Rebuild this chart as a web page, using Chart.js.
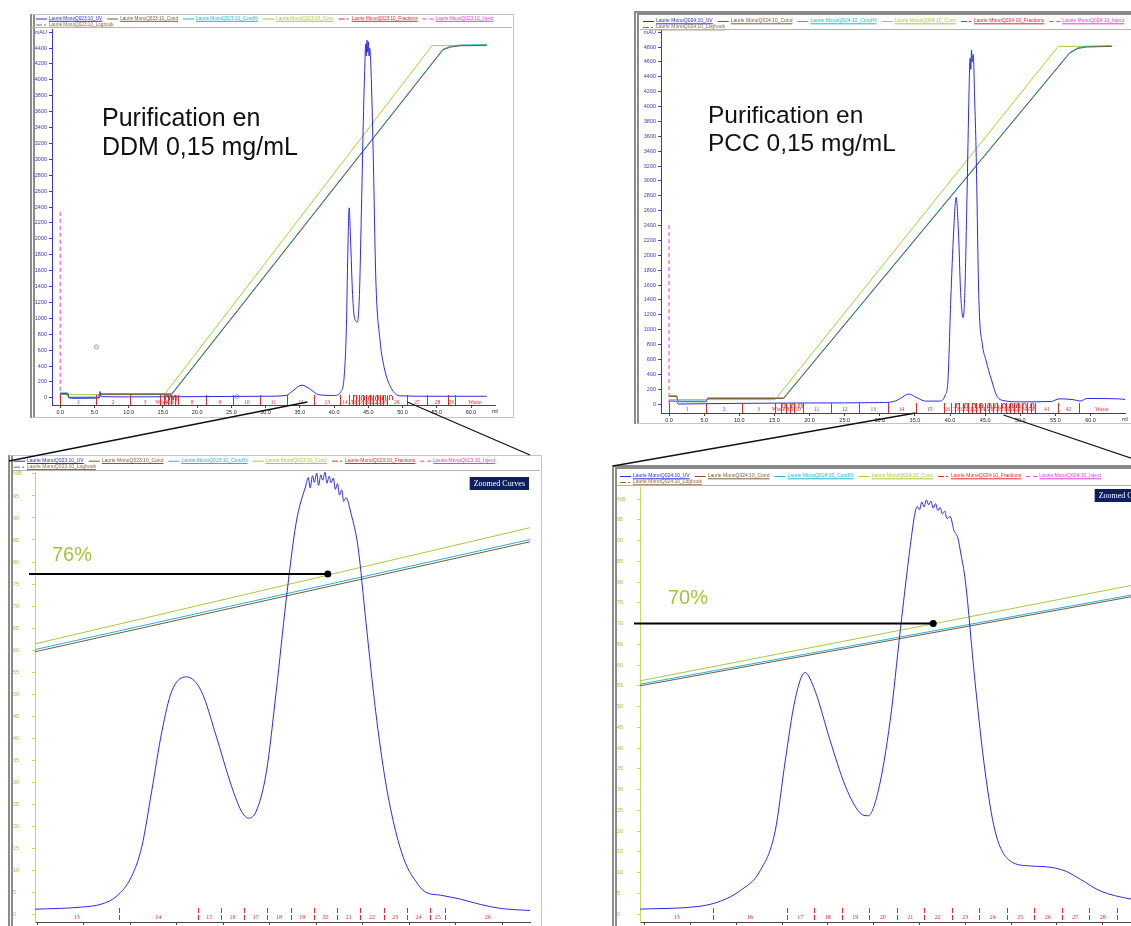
<!DOCTYPE html>
<html>
<head>
<meta charset="utf-8">
<script src="https://cdn.jsdelivr.net/npm/chart.js@4.4.0/dist/chart.umd.min.js"></script>
<style>
  html, body { margin: 0; padding: 0; background: #fff; width: 1131px; height: 926px; overflow: hidden; }
  .frame { position: absolute; box-sizing: border-box; border: 1px solid #c4c4c4; border-left: 5px double #8c8c8c; background: #fff; }
  .bar { border-top: 4px solid #8a8a8a; }
  canvas.chart { position: absolute; }
  .title { position: absolute; font-family: 'Liberation Sans', Arial, sans-serif; color: #111; white-space: pre; }
  #overlay { position: absolute; left: 0; top: 0; pointer-events: none; }
</style>
</head>
<body>
<div class="frame" style="left:30px; top:14px; width:484px; height:404px;"></div>
<div class="frame bar" style="left:634px; top:11px; width:540px; height:413px;"></div>
<div class="frame" style="left:8px; top:455px; width:534px; height:490px;"></div>
<div class="frame bar" style="left:612px; top:465px; width:560px; height:480px;"></div>

<canvas class="chart" id="tl" width="481" height="401" style="left:31px; top:15px;"></canvas>
<canvas class="chart" id="tr" width="500" height="408" style="left:640px; top:15px;"></canvas>
<canvas class="chart" id="bl" width="527" height="475" style="left:13px; top:456px;"></canvas>
<canvas class="chart" id="br" width="550" height="464" style="left:617px; top:468px;"></canvas>
<canvas id="overlay" width="1131" height="926"></canvas>

<div class="title" style="left:102px; top:103px; font-size:25px; line-height:29px;">Purification en
DDM 0,15 mg/mL</div>
<div class="title" style="left:708px; top:101px; font-size:24.5px; line-height:28px;">Purification en
PCC 0,15 mg/mL</div>

<script>
// ---------- top left run (DDM), x in ml, UV in mAU, others in % ----------
const uvTL = [[0,50],[1.0,50],[1.3,5],[2,-5],[5.6,0],[5.8,80],[6.0,15],[10,12],[20,15],[30,20],[33,30],[34,90],[35.3,160],[36.5,110],[37.7,40],[40,30],[41,80],[41.5,300],[41.8,900],[42.0,1800],[42.2,2390],[42.4,2000],[42.7,1300],[43.0,1000],[43.4,955],[43.7,1300],[44.0,2400],[44.3,3600],[44.5,4200],[44.6,4450],[44.7,4300],[44.8,4500],[44.9,4350],[45.0,4480],[45.1,4300],[45.2,4400],[45.4,4100],[45.7,3120],[46.1,1480],[46.7,730],[47.4,350],[48.5,100],[49.6,25],[55,20],[62.3,20]];
const condTL = [[0,0.3],[1.1,0.3],[1.25,-0.9],[5.7,-0.9],[5.9,0.1],[16.3,0.1],[55.9,98.8],[57.0,99.6],[58.5,100],[62.3,100.1]];
const condPctTL = [[0,0.5],[1.1,0.5],[1.25,-0.7],[5.7,-0.7],[5.9,0.3],[16.3,0.3],[55.9,99.0],[57.0,99.8],[58.5,100.2],[62.3,100.3]];
const concTL = [[0,0],[15.2,0],[54.3,100],[62.3,100]];
const injectTL = [[0,0],[0,2350]];
const logbookTL = [[5.3,640],[25.8,15]];
const fracEdgesTL = [0,5.2,10.2,14.6,15.2,15.7,16.2,16.7,17.2,21.3,25.3,29.2,33.1,37.1,40.9,42.2,42.7,43.2,43.7,44.2,44.7,45.2,45.7,46.2,46.7,47.2,47.7,50.6,53.6,56.6,57.6];
const fracLabelsTL = ['','1','2','3','Waste','4','5','6','7','8','9','10','11','12','13','14','15','16','17','18','19','20','21','22','23','24','25','26','27','28','29','Waste'];
const tubeMarksTL = [15.6,16.2,16.8,43.1,44.2,45.3,46.3,47.3,48.3];

// ---------- top right run (PCC) ----------
const uvTR = [[0,40],[1.0,40],[1.3,0],[5,5],[10,10],[20,15],[30,20],[32,35],[33,80],[34.1,135],[35.2,90],[36.5,40],[38.5,40],[39.3,120],[39.7,324],[40.1,1405],[40.5,2300],[40.86,2780],[41.2,2300],[41.5,1500],[41.86,1162],[42.1,1500],[42.4,2757],[42.7,4200],[42.85,4650],[42.95,4500],[43.05,4760],[43.15,4600],[43.3,4700],[43.5,4100],[43.7,3430],[44.1,1405],[44.6,800],[45.1,595],[45.5,450],[45.9,324],[46.6,120],[47.3,54],[50,30],[54.4,35],[55.5,70],[57.5,60],[58.5,40],[59.5,75],[64,70],[65,60]];
const condTR = [[0,0.9],[1.1,0.9],[1.25,-0.6],[5.3,-0.6],[5.5,0.3],[16.3,0.3],[57.0,98],[58.2,99.4],[59.4,99.8],[63,100]];
const condPctTR = [[0,1.1],[1.1,1.1],[1.25,-0.4],[5.3,-0.4],[5.5,0.5],[16.3,0.5],[57.0,98.2],[58.2,99.6],[59.4,100],[63,100.2]];
const concTR = [[0,0],[15.1,0],[55.4,100],[63,100]];
const injectTR = [[0,0],[0,2450]];
const fracEdgesTR = [0,5.3,10.4,15.1,16.0,16.6,17.2,17.8,19.0,23.0,27.0,31.1,35.1,39.1,40.1,40.7,41.3,41.9,42.5,43.1,43.7,44.3,44.9,45.5,46.1,46.7,47.3,47.9,48.5,49.1,49.7,50.3,50.9,51.5,52.1,55.4,58.3];
const fracLabelsTR = ['','1','2','3','Waste','7','8','9','10','11','12','13','14','15','16','17','18','19','20','21','22','23','24','25','26','27','28','29','30','31','32','33','34','35','36','41','42','Waste'];
const tubeMarksTR = [16.3,17.7,18.7,41.1,42.3,43.4,44.4,45.6,46.6,47.7,48.7,49.7,50.6,51.7];

// ---------- bottom left: zoom on DDM run ----------
const uvBL = [[38.95,1.1],[39.96,1.6],[40.39,2.3],[40.71,4.1],[41.03,8.6],[41.25,15.4],[41.46,27.9],[41.68,41.5],[41.89,50.6],[42.21,53.9],[42.53,50.6],[42.85,40.4],[43.18,29],[43.39,23.4],[43.54,21.8],[43.71,23.4],[43.93,32.4],[44.14,50.6],[44.35,71],[44.57,89],[44.78,97.5],[44.83,99.2],[44.87,96.8],[44.92,99.6],[44.96,98.1],[45.01,100.2],[45.05,97.4],[45.10,99.8],[45.14,98.6],[45.19,100.4],[45.23,97.9],[45.28,99.5],[45.32,98.0],[45.37,99.1],[45.41,96.5],[45.46,97.8],[45.50,95.2],[45.55,96.4],[45.59,93.8],[45.64,94.6],[45.75,91],[45.90,83.4],[46.07,66.4],[46.28,46],[46.49,30.2],[46.71,18.8],[46.92,11.6],[47.14,7.5],[47.35,5],[47.67,4.3],[48.10,3.4],[48.53,2.2],[48.96,1.3],[49.6,0.8]];
const concBL = [[38.95,61.4],[49.6,87.8]];
const condBL = [[38.95,59.6],[49.6,84.6]];
const condPctBL = [[38.95,60.1],[49.6,85.1]];
const fracEdgesBL = [40.75,42.45,42.95,43.45,43.95,44.45,44.95,45.45,45.95,46.45,46.95,47.45,47.78];
const fracLabelsBL = ['13','14','15','16','17','18','19','20','21','22','23','24','25','26'];

// ---------- bottom right: zoom on PCC run ----------
const uvBR = [[36.9,1.2],[38.21,1.9],[38.65,3.1],[39.08,5.6],[39.52,10.4],[39.85,20],[40.07,36.9],[40.28,51.4],[40.5,58.2],[40.72,53.8],[41.05,41.8],[41.38,30.9],[41.7,24.4],[41.88,23.7],[42.1,29.7],[42.36,46.6],[42.58,68.3],[42.8,88.8],[42.9,96.5],[42.95,98.2],[43.0,97.4],[43.05,99.3],[43.1,98.1],[43.15,99.8],[43.2,98.6],[43.25,99.5],[43.3,97.8],[43.35,98.9],[43.4,97.2],[43.45,98.0],[43.5,96.4],[43.55,97.1],[43.6,95.3],[43.67,95.8],[43.75,92.5],[43.84,90.5],[43.9,87],[44.0,80.4],[44.21,56.2],[44.43,34.5],[44.65,20],[44.98,12.8],[45.42,11.6],[45.85,11.3],[46.18,10.4],[46.51,8.4],[46.94,5.6],[47.62,3.6],[48.14,2.7]];
const concBR = [[36.9,56.2],[48.14,80.3]];
const condBR = [[36.9,55.0],[48.14,77.5]];
const condPctBR = [[36.9,55.4],[48.14,77.9]];
const fracEdgesBR = [38.5,40.1,40.7,41.3,41.9,42.5,43.1,43.7,44.3,44.9,45.5,46.1,46.7,47.3];
const fracLabelsBR = ['13','16','17','18','19','20','21','22','23','24','25','26','27','28','29'];

const SANS = "'Liberation Sans', Arial, sans-serif";
const SERIF = "'Liberation Serif', 'Times New Roman', serif";
const C = { uv: '#2b2be6', cond: '#7a5a38', condPct: '#1fb4d8', conc: '#a9c93a', frac: '#e02a2a', inject: '#e03ce0', log: '#8b6a3a' };

const xy = arr => arr.map(p => ({ x: p[0], y: p[1] }));

function datasets(prefix, uv, cond, condPct, conc, inject, logb, pctAxis) {
  return [
    { label: prefix + '_UV', data: xy(uv), borderColor: C.uv, yAxisID: 'y', cubicInterpolationMode: 'monotone' },
    { label: prefix + '_Cond', data: xy(cond), borderColor: C.cond, yAxisID: pctAxis },
    { label: prefix + '_Cond%', data: xy(condPct), borderColor: C.condPct, yAxisID: pctAxis },
    { label: prefix + '_Conc', data: xy(conc), borderColor: C.conc, yAxisID: pctAxis },
    { label: prefix + '_Fractions', data: [], borderColor: C.frac, borderDash: [6, 2, 2, 2], yAxisID: 'y' },
    { label: prefix + '_Inject', data: xy(inject), borderColor: C.inject, borderDash: [4, 3], yAxisID: 'y' },
    { label: prefix + '_Logbook', data: xy(logb), borderColor: C.log, borderDash: [6, 2, 2, 2], showLine: false,
      pointRadius: 2.2, pointBackgroundColor: '#e8e8e8', pointBorderColor: '#b0b0b0', yAxisID: 'y' }
  ];
}

// legend, fraction marks, reference line and other bits of the instrument printout
function makeDeco(cfg) {
  return {
    id: 'deco',
    afterDatasetsDraw(chart) {
      const ctx = chart.ctx, a = chart.chartArea, xs = chart.scales.x, ys = chart.scales.y;
      ctx.save();
      const f = cfg.frac;
      ctx.strokeStyle = C.frac; ctx.fillStyle = C.frac; ctx.lineWidth = 1;
      f.edges.forEach(e => {
        if (e < xs.min || e > xs.max) return;
        const px = Math.round(xs.getPixelForValue(e)) + 0.5;
        ctx.setLineDash(f.dash || []);
        ctx.beginPath(); ctx.moveTo(px, a.bottom - f.tick); ctx.lineTo(px, a.bottom); ctx.stroke();
      });
      ctx.setLineDash([]);
      ctx.font = f.font; ctx.textAlign = 'center'; ctx.textBaseline = 'alphabetic';
      const bounds = [xs.min, ...f.edges, xs.max];
      f.labels.forEach((lab, i) => {
        if (!lab) return;
        const c = (bounds[i] + bounds[i + 1]) / 2;
        ctx.fillText(lab, xs.getPixelForValue(c), a.bottom - f.base);
      });
      (f.tubes || []).forEach(t => {
        const px = xs.getPixelForValue(t);
        ctx.beginPath();
        ctx.moveTo(px - 1.6, a.bottom - 5);
        ctx.lineTo(px - 1.6, a.bottom - 8);
        ctx.arc(px, a.bottom - 8, 1.6, Math.PI, 0);
        ctx.lineTo(px + 1.6, a.bottom - 5);
        ctx.stroke();
      });
      if (cfg.ref) {
        const r = cfg.ref;
        const y = ys.getPixelForValue(r.value), x2 = xs.getPixelForValue(r.at);
        ctx.strokeStyle = '#000'; ctx.fillStyle = '#000'; ctx.lineWidth = 2;
        ctx.beginPath(); ctx.moveTo(a.left - 6, y); ctx.lineTo(x2, y); ctx.stroke();
        ctx.beginPath(); ctx.arc(x2, y, 3.5, 0, Math.PI * 2); ctx.fill();
        ctx.font = '20px ' + SANS; ctx.fillStyle = '#9fc53a'; ctx.textAlign = 'left';
        ctx.fillText(r.text, a.left + r.dx, y + r.dy);
      }
      ctx.restore();
    },
    afterDraw(chart) {
      const ctx = chart.ctx, a = chart.chartArea;
      ctx.save();
      // legend rows
      const L = cfg.legend;
      ctx.font = L.size + 'px ' + SANS; ctx.textBaseline = 'middle'; ctx.textAlign = 'left';
      let x = L.x0, y = L.y0;
      chart.data.datasets.forEach((ds, i) => {
        if (i === 6) { x = L.x0; y += L.rowGap; }
        ctx.strokeStyle = ds.borderColor; ctx.lineWidth = 1;
        ctx.setLineDash(ds.borderDash || []);
        ctx.beginPath(); ctx.moveTo(x, y + 0.5); ctx.lineTo(x + 11, y + 0.5); ctx.stroke();
        ctx.setLineDash([]);
        const tx = x + 13, w = ctx.measureText(ds.label).width;
        ctx.fillStyle = ds.borderColor;
        ctx.fillText(ds.label, tx, y);
        ctx.beginPath(); ctx.moveTo(tx, y + 2.8); ctx.lineTo(tx + w, y + 2.8); ctx.stroke();
        x = tx + w + 5;
      });
      ctx.strokeStyle = '#b4b4b4'; ctx.lineWidth = 1;
      ctx.beginPath(); ctx.moveTo(0, cfg.sepY + 0.5); ctx.lineTo(chart.width, cfg.sepY + 0.5); ctx.stroke();
      if (cfg.ml) {
        ctx.fillStyle = '#222'; ctx.font = '5.5px ' + SANS; ctx.textAlign = 'left'; ctx.textBaseline = 'top';
        ctx.fillText('ml', a.right - 3, a.bottom + 4);
      }
      if (cfg.zoomed) {
        ctx.font = '8px ' + SERIF;
        const w = ctx.measureText('Zoomed Curves').width + 8;
        ctx.fillStyle = '#0d1f5e';
        ctx.fillRect(a.right - w - 1, a.top + cfg.zoomed, w, 13);
        ctx.fillStyle = '#fff'; ctx.textAlign = 'left'; ctx.textBaseline = 'middle';
        ctx.fillText('Zoomed Curves', a.right - w + 3, a.top + cfg.zoomed + 6.8);
      }
      ctx.restore();
    }
  };
}

function axisFont(size) { return { family: SANS, size: size }; }

function topChart(id, dsets, o) {
  const base = o.pctZero, k = o.pctSpan / 100;
  return new Chart(document.getElementById(id), {
    type: 'line',
    data: { datasets: dsets },
    options: {
      responsive: false, animation: false, devicePixelRatio: 1,
      layout: { padding: { top: o.top, right: o.right, left: 0, bottom: 0 } },
      elements: { point: { radius: 0 }, line: { borderWidth: 1, tension: 0 } },
      plugins: { legend: { display: false }, tooltip: { enabled: false } },
      scales: {
        x: { type: 'linear', min: o.xmin, max: o.xmax,
             ticks: { stepSize: 5, includeBounds: false, color: '#222', font: axisFont(5.5), padding: 1, maxRotation: 0,
                      callback: v => v.toFixed(1) },
             grid: { display: true, drawOnChartArea: false, tickLength: 3, color: '#444' },
             border: { display: true, color: '#444' },
             afterFit: s => { s.height = o.xh; } },
        y: { type: 'linear', min: o.ymin, max: o.ymax,
             ticks: { stepSize: 200, includeBounds: false, color: '#3a3ab4', font: axisFont(5.5), padding: 2,
                      callback: v => (v === o.unitTick ? 'mAU' : v) },
             grid: { display: true, drawOnChartArea: false, tickLength: 3, color: '#3a3ad0' },
             border: { display: true, color: '#3a3ad0' },
             afterFit: s => { s.width = o.yw; } },
        yp: { type: 'linear', display: false, min: (o.ymin - base) / k, max: (o.ymax - base) / k }
      }
    },
    plugins: [makeDeco(o.deco)]
  });
}

function zoomChart(id, dsets, o) {
  return new Chart(document.getElementById(id), {
    type: 'line',
    data: { datasets: dsets },
    options: {
      responsive: false, animation: false, devicePixelRatio: 1,
      layout: { padding: { top: o.top, right: o.right, left: 0, bottom: 0 } },
      elements: { point: { radius: 0 }, line: { borderWidth: 1, tension: 0 } },
      plugins: { legend: { display: false }, tooltip: { enabled: false } },
      scales: {
        x: { type: 'linear', min: o.xmin, max: o.xmax,
             ticks: { stepSize: 1, includeBounds: false, color: '#222', font: axisFont(5.5), padding: 1, maxRotation: 0,
                      callback: v => v.toFixed(1) },
             grid: { display: true, drawOnChartArea: false, tickLength: 3, color: '#444' },
             border: { display: true, color: '#444' },
             afterFit: s => { s.height = o.xh; } },
        y: { type: 'linear', min: o.ymin, max: o.ymax,
             ticks: { stepSize: 5, includeBounds: false, color: '#9cc43c', font: axisFont(5.5), padding: 2, crossAlign: 'far',
                      callback: v => (v === 100 ? '%B' : v) },
             grid: { display: true, drawOnChartArea: false, tickLength: 3, color: '#c4dc5a' },
             border: { display: true, color: '#c4dc5a' },
             afterFit: s => { s.width = o.yw; } }
      }
    },
    plugins: [makeDeco(o.deco)]
  });
}

const chTL = topChart('tl', datasets('Laurie MonoQ023:10', uvTL, condTL, condPctTL, concTL, injectTL, logbookTL, 'yp'), {
  top: 14, right: 17, xh: 11, yw: 21, xmin: -1.2, xmax: 63.5, ymin: -90, ymax: 4640, unitTick: 4600,
  pctZero: 40, pctSpan: 4390,
  deco: { legend: { x0: 5, y0: 3.5, rowGap: 6, size: 4.7 }, sepY: 12, ml: true,
          frac: { edges: fracEdgesTL, labels: fracLabelsTL, tubes: tubeMarksTL, tick: 10, base: 1.5, font: '5.5px ' + SERIF } }
});
const chTR = topChart('tr', datasets('Laurie MonoQ024:10', uvTR, condTR, condPctTR, concTR, injectTR, [], 'yp'), {
  top: 15, right: 15, xh: 10, yw: 21, xmin: -1.15, xmax: 64.9, ymin: -120, ymax: 5030, unitTick: 5000,
  pctZero: 60, pctSpan: 4750,
  deco: { legend: { x0: 3, y0: 6, rowGap: 6, size: 5.0 }, sepY: 14, ml: true,
          frac: { edges: fracEdgesTR, labels: fracLabelsTR, tubes: tubeMarksTR, tick: 10, base: 2, font: '5.5px ' + SERIF } }
});
const chBL = zoomChart('bl', datasets('Laurie MonoQ023:10', uvBL, condBL, condPctBL, concBL, [], [], 'y'), {
  top: 16, right: 10, xh: 9, yw: 22, xmin: 38.95, xmax: 49.6, ymin: -1.8, ymax: 100.45,
  deco: { legend: { x0: 1, y0: 4.7, rowGap: 6, size: 5.0 }, sepY: 14, zoomed: 5,
          ref: { value: 77.3, at: 45.25, text: '76%', dx: 17, dy: -13 },
          frac: { edges: fracEdgesBL, labels: fracLabelsBL, tick: 14, base: 3, dash: [5, 2], font: '6px ' + SERIF } }
});
const chBR = zoomChart('br', datasets('Laurie MonoQ024:10', uvBR, condBR, condPctBR, concBR, [], [], 'y'), {
  top: 19, right: 12, xh: 10, yw: 23, xmin: 36.9, xmax: 48.14, ymin: -1.9, ymax: 102.9,
  deco: { legend: { x0: 3, y0: 8, rowGap: 6, size: 5.0 }, sepY: 17, zoomed: 2,
          ref: { value: 70, at: 43.3, text: '70%', dx: 28, dy: -20 },
          frac: { edges: fracEdgesBR, labels: fracLabelsBR, tick: 14, base: 3, dash: [5, 2], font: '6px ' + SERIF } }
});

// connector lines from the zoomed range of each run to its zoom panel
const zoomRangeTL = [36.1, 50.7];
const zoomRangeTR = [35.1, 47.6];
function pageX(chart, v) { return chart.canvas.offsetLeft + chart.scales.x.getPixelForValue(v); }
function pageBottom(chart) { return chart.canvas.offsetTop + chart.chartArea.bottom; }
const ov = document.getElementById('overlay').getContext('2d');
ov.strokeStyle = '#111'; ov.lineWidth = 1.3;
function connect(x1, y1, x2, y2) { ov.beginPath(); ov.moveTo(x1, y1); ov.lineTo(x2, y2); ov.stroke(); }
connect(pageX(chTL, zoomRangeTL[0]), pageBottom(chTL) - 3, 9, 461);
connect(pageX(chTL, zoomRangeTL[1]), pageBottom(chTL) - 3, 530, 455);
connect(pageX(chTR, zoomRangeTR[0]), pageBottom(chTR), 613, 466);
connect(pageX(chTR, zoomRangeTR[1]), pageBottom(chTR) + 2, 1160, 468);
</script>
</body>
</html>
